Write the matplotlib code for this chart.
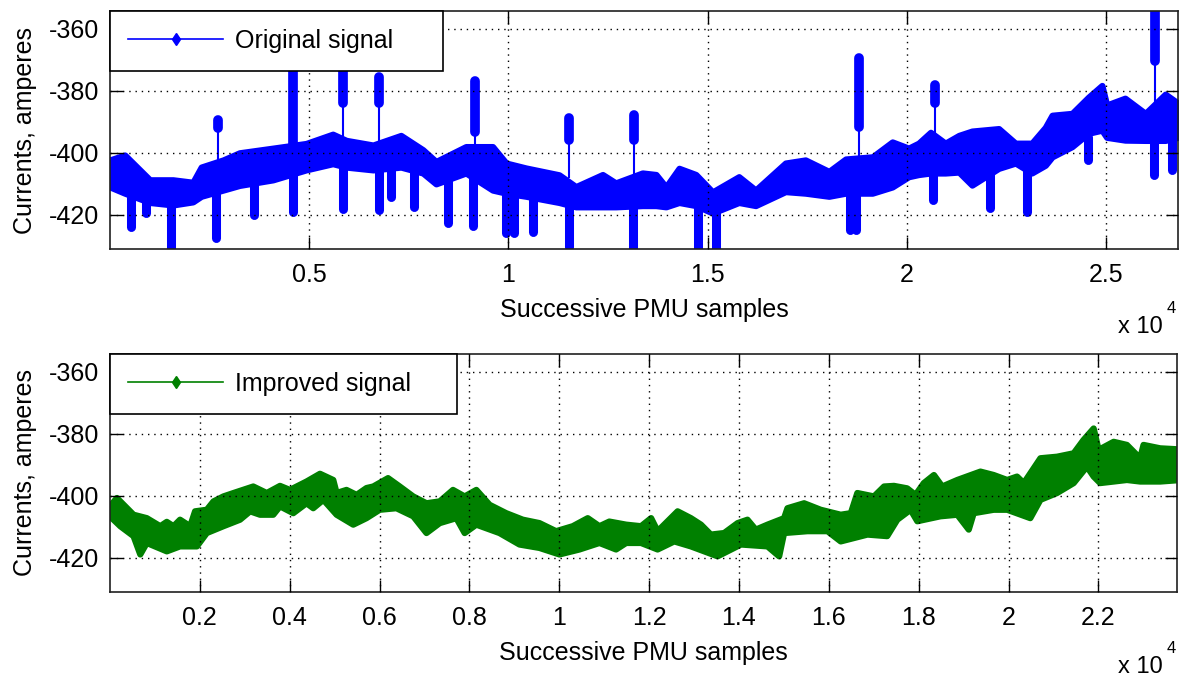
import numpy as np
import matplotlib
matplotlib.use("Agg")
import matplotlib.pyplot as plt
from matplotlib.lines import Line2D
from matplotlib.ticker import FuncFormatter

plt.rcParams['font.family'] = ['Liberation Sans', 'DejaVu Sans']
plt.rcParams['font.size'] = 18
plt.rcParams['axes.unicode_minus'] = False

BLUE = (0, 0, 1)
GREEN = (0, 0.5, 0)

# ---------------- Original signal (top) ----------------
orig_x = [0, 370, 1000, 1580, 2080, 2290, 2840, 3250, 4090, 4920, 5590, 5930, 6600, 7300,
          7850, 8180, 8930, 9600, 9940, 10440, 11270, 11690, 12360, 12690, 13360, 13700,
          13950, 14280, 14700, 15120, 15780, 16200, 16950, 17450, 18040, 18460, 19130,
          19630, 20040, 20290, 20590, 20960, 21300, 21630, 22300, 22720, 23130, 23470,
          23640, 24140, 24550, 24890, 25010, 25470, 25980, 26480, 26800]
orig_upper = [-402.3, -400.7, -408.7, -408.7, -409.5, -404.6, -402.3, -400.0, -398.5, -397.0,
              -394.0, -396.0, -397.5, -394.4, -399.0, -402.8, -398.0, -398.0, -403.3, -404.9,
              -407.1, -410.9, -407.0, -409.7, -406.5, -407.0, -411.0, -405.0, -407.0, -412.6,
              -407.7, -412.0, -403.3, -402.3, -406.0, -402.0, -401.3, -396.5, -398.5, -396.9,
              -393.4, -396.9, -394.4, -393.0, -392.2, -396.9, -396.9, -391.8, -387.9, -387.3,
              -382.1, -378.3, -384.6, -382.4, -387.3, -381.1, -384.0]
orig_lower = [-411.0, -413.0, -416.0, -416.8, -415.8, -414.0, -412.0, -410.5, -408.7, -405.5,
              -403.5, -404.6, -405.5, -404.6, -406.5, -410.0, -406.5, -412.0, -413.0, -414.0,
              -416.0, -417.4, -417.4, -417.4, -417.0, -417.0, -417.4, -416.0, -417.0, -419.4,
              -416.0, -417.0, -412.5, -413.0, -414.0, -413.0, -413.0, -411.0, -407.7, -407.0,
              -406.5, -406.5, -406.2, -410.4, -405.0, -403.3, -406.5, -404.0, -401.3, -398.0,
              -393.7, -392.7, -395.0, -395.9, -396.0, -396.0, -395.0]

# downward bursts: position, start (inside band), lowest value
down_x = [540, 915, 1540, 2650, 3620, 4600, 5860, 6750, 7060, 7620, 8470, 9120, 9950,
          10150, 10610, 11510, 13130, 14750, 15200, 18560, 18720, 20650, 22090, 23020,
          24550, 26200, 26650]
down_start = [-407, -412, -412, -408, -405, -402, -400, -401, -401, -401, -406, -402, -408,
              -408, -410, -412, -412, -412, -414, -408, -408, -402, -401, -401, -395, -392,
              -392]
down_end = [-424.0, -419.4, -432.0, -427.4, -420.0, -419.0, -418.0, -418.4, -414.2, -417.4,
            -422.5, -423.5, -425.7, -425.7, -425.4, -430.3, -432.0, -432.0, -432.0, -425.0,
            -425.0, -415.2, -417.8, -419.0, -402.3, -407.2, -405.5]

# upward bursts: position, band level, start of thick head, top value
up_x = [2720, 4600, 5860, 6750, 9160, 11510, 13150, 18800, 20710, 26230]
up_base = [-403, -399, -397, -398, -398, -408, -408, -404, -396, -386]
up_neck = [-392.0, -399.0, -384.0, -384.0, -393.4, -395.9, -395.9, -391.8, -384.0, -370.3]
up_top = [-389.5, -372.0, -372.0, -375.5, -376.7, -388.8, -387.9, -369.6, -378.3, -354.0]

# ---------------- Improved signal (bottom) ----------------
impr_up_x = [0, 155, 525, 820, 1120, 1265, 1415, 1560, 1785, 1895, 2155, 2305, 2525, 2750,
             3190, 3490, 3785, 4005, 4375, 4675, 4970, 5045, 5265, 5490, 5710, 5860, 6190,
             6450, 6750, 7045, 7340, 7635, 7895, 8155, 8450, 8820, 9190, 9560, 9930, 10300,
             10635, 10895, 11115, 11490, 11820, 12045, 12190, 12635, 12930, 13155, 13375,
             13670, 13970, 14190, 14375, 14635, 15005, 15080, 15450, 15820, 16265, 16490,
             16635, 17005, 17230, 17450, 17745, 17930, 18115, 18340, 18525, 18860, 19375,
             19670, 19970, 20190, 20340, 20710, 21080, 21450, 21670, 21895, 22005, 22340,
             22635, 22930, 23005, 23375, 23750]
impr_up_y = [-403.4, -400.7, -406.1, -407.2, -409.8, -408.4, -409.8, -407.7, -409.8, -405.0,
             -404.5, -401.8, -400.2, -399.1, -397.0, -399.1, -396.8, -398.1, -395.4, -392.9,
             -394.9, -399.1, -398.1, -399.7, -397.5, -397.0, -394.3, -397.0, -400.2, -402.4,
             -401.8, -398.1, -400.2, -398.1, -402.9, -405.6, -407.7, -408.8, -411.4, -409.8,
             -407.2, -409.8, -408.3, -409.3, -409.8, -407.2, -411.4, -405.0, -407.2, -409.3,
             -412.5, -412.0, -408.8, -407.7, -410.9, -409.3, -407.2, -404.0, -402.4, -404.5,
             -406.1, -405.6, -399.1, -400.2, -397.0, -396.8, -397.6, -399.7, -395.9, -393.3,
             -397.0, -394.9, -392.2, -393.3, -394.9, -393.8, -395.9, -387.9, -387.4, -386.3,
             -382.0, -378.3, -385.2, -382.6, -383.6, -387.9, -383.6, -384.7, -385.0]
impr_lo_x = [0, 230, 525, 675, 820, 1265, 1560, 1935, 2155, 2525, 2895, 3120, 3340, 3635,
             3785, 4080, 4375, 4525, 4750, 5045, 5415, 5710, 6005, 6375, 6750, 7045, 7340,
             7710, 7895, 8155, 8670, 9115, 9560, 10005, 10450, 10895, 11265, 11490, 11820,
             12190, 12560, 12930, 13525, 14045, 14635, 14895, 15005, 15525, 15970, 16265,
             16860, 17300, 17525, 17820, 17970, 18485, 18860, 19115, 19225, 19670, 19970,
             20485, 20710, 21080, 21450, 21745, 21895, 22040, 22340, 22635, 22930, 23375,
             23750]
impr_lo_y = [-406.6, -409.8, -413.0, -418.9, -415.2, -417.9, -416.3, -416.3, -412.0, -409.8,
             -407.7, -405.0, -406.1, -406.1, -403.4, -405.6, -402.4, -404.0, -401.3, -406.1,
             -409.3, -407.2, -404.5, -404.0, -406.6, -412.0, -408.8, -407.2, -412.0, -409.3,
             -412.0, -415.7, -416.8, -418.9, -417.3, -415.2, -417.3, -415.2, -415.2, -417.3,
             -414.7, -416.3, -419.5, -415.7, -416.3, -419.5, -412.0, -411.4, -411.4, -414.7,
             -412.5, -413.0, -407.7, -404.5, -408.2, -406.6, -406.1, -410.9, -405.6, -404.5,
             -404.5, -407.2, -401.3, -399.1, -395.9, -390.6, -393.8, -395.9, -395.4, -394.9,
             -395.4, -395.4, -395.0]

yticks = [-420, -400, -380, -360]
top_xticks = [5000, 10000, 15000, 20000, 25000]
bot_xticks = [2000, 4000, 6000, 8000, 10000, 12000, 14000, 16000, 18000, 20000, 22000]
top_xlim = (1, 26800)
bot_xlim = (1, 23750)
ylim = (-431, -354.3)

W, H = 1182, 678
fig = plt.figure(figsize=(W / 100, H / 100), dpi=100)
ax1 = fig.add_axes([110 / W, 1 - 249 / H, 1068 / W, 238 / H])
ax2 = fig.add_axes([110 / W, 1 - 592 / H, 1067 / W, 238 / H])

fmt = FuncFormatter(lambda v, p: f"{v / 1e4:g}")


def style(ax, xticks, xlim):
    ax.set_xlim(*xlim)
    ax.set_ylim(*ylim)
    ax.set_xticks(xticks)
    ax.set_yticks(yticks)
    ax.xaxis.set_major_formatter(fmt)
    ax.tick_params(direction='in', length=9, width=1, top=True, right=True,
                   labelsize=18, colors='black')
    ax.tick_params(axis='x', pad=10)
    ax.tick_params(axis='y', pad=8)
    ax.set_axisbelow(False)
    ax.grid(True, color='black', linestyle=(0, (1, 3.5)), linewidth=1)
    for s in ax.spines.values():
        s.set_linewidth(1.2)
        s.set_color('#202020')
    ax.set_xlabel('Successive PMU samples', fontsize=18, labelpad=8)
    ax.set_ylabel('Currents, amperes', fontsize=18, labelpad=8)


# top plot
band = ax1.fill_between(orig_x, orig_lower, orig_upper, color=BLUE, linewidth=4.5,
                        edgecolor=BLUE)
band.set_joinstyle('round')
lc = ax1.vlines(down_x, down_start, down_end, colors=BLUE, linewidth=6.5)
lc.set_capstyle('round')
ax1.vlines(up_x, up_base, up_neck, colors=BLUE, linewidth=1.5)
lc = ax1.vlines(up_x, up_neck, up_top, colors=BLUE, linewidth=7)
lc.set_capstyle('round')
style(ax1, top_xticks, top_xlim)

# bottom plot
poly_x = list(impr_up_x) + list(impr_lo_x[::-1])
poly_y = list(impr_up_y) + list(impr_lo_y[::-1])
patch = ax2.fill(poly_x, poly_y, color=GREEN, linewidth=4.5, edgecolor=GREEN)[0]
patch.set_joinstyle('round')
style(ax2, bot_xticks, bot_xlim)

# legends
for ax, col, lab, w in [(ax1, BLUE, 'Original signal', 0.3118),
                        (ax2, GREEN, 'Improved signal', 0.325)]:
    h = Line2D([], [], color=col, lw=1.2, marker='d', ms=6)
    leg = ax.legend([h], [lab], loc='upper left', bbox_to_anchor=(0, 0, w, 1),
                    mode='expand', borderaxespad=0, fancybox=False, edgecolor='black',
                    framealpha=1, handlelength=3.8, handletextpad=0.48, borderpad=0.72,
                    fontsize=18, numpoints=1)
    leg.get_frame().set_linewidth(1.2)
    leg.set_zorder(10)

# x 10^4 multipliers
fig.text(1163 / W, 1 - 333 / H, 'x 10', ha='right', va='baseline', fontsize=17)
fig.text(1167 / W, 1 - 313 / H, '4', ha='left', va='baseline', fontsize=12)
fig.text(1163 / W, 1 - 673 / H, 'x 10', ha='right', va='baseline', fontsize=17)
fig.text(1167 / W, 1 - 653 / H, '4', ha='left', va='baseline', fontsize=12)

fig.savefig('out.png', dpi=100, facecolor='white')
